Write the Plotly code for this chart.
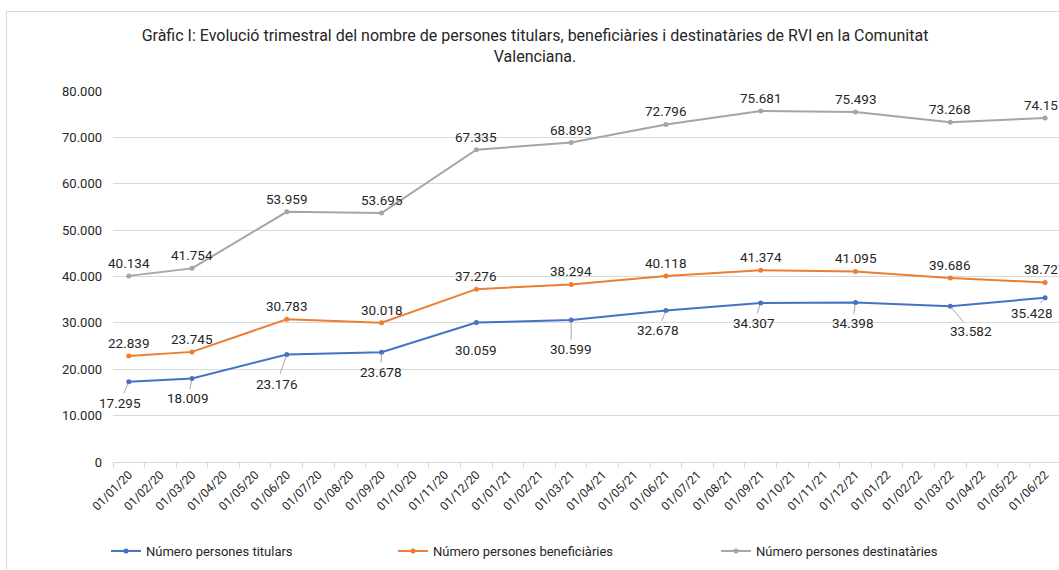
import plotly.graph_objects as go

months = ["01/01/20", "01/02/20", "01/03/20", "01/04/20", "01/05/20", "01/06/20",
          "01/07/20", "01/08/20", "01/09/20", "01/10/20", "01/11/20", "01/12/20",
          "01/01/21", "01/02/21", "01/03/21", "01/04/21", "01/05/21", "01/06/21",
          "01/07/21", "01/08/21", "01/09/21", "01/10/21", "01/11/21", "01/12/21",
          "01/01/22", "01/02/22", "01/03/22", "01/04/22", "01/05/22", "01/06/22"]

dates = ["01/01/20", "01/03/20", "01/06/20", "01/09/20", "01/12/20", "01/03/21",
         "01/06/21", "01/09/21", "01/12/21", "01/03/22", "01/06/22"]

titulars = [17295, 18009, 23176, 23678, 30059, 30599, 32678, 34307, 34398, 33582, 35428]
beneficiaries = [22839, 23745, 30783, 30018, 37276, 38294, 40118, 41374, 41095, 39686, 38727]
destinataries = [40134, 41754, 53959, 53695, 67335, 68893, 72796, 75681, 75493, 73268, 74155]

names = ["Número persones titulars", "Número persones beneficiàries", "Número persones destinatàries"]
colors = ["#4472C4", "#ED7D31", "#A5A5A5"]

# label offsets for the blue series (pixels: dx, dy) and whether a leader line is visible
blue_offsets = [(-9, 21), (-4, 20), (-10, 29), (-1, 20), (0, 27), (0, 29),
                (-8, 20), (-7, 20), (-3, 21), (21, 25), (-13, 15)]
blue_leader = [True, True, True, True, False, True, True, True, True, True, True]


def fmt(v):
    return f"{v:,}".replace(",", ".")


fig = go.Figure()
series = [titulars, beneficiaries, destinataries]
legends = ["legend", "legend2", "legend3"]
for vals, name, col, lg in zip(series, names, colors, legends):
    fig.add_trace(go.Scatter(
        x=dates, y=vals, name=name, mode="lines+markers",
        line=dict(color=col, width=2),
        marker=dict(color=col, size=5),
        legend=lg, cliponaxis=False,
    ))

annotations = []
for vals in (beneficiaries, destinataries):
    for d, v in zip(dates, vals):
        annotations.append(dict(x=d, y=v, text=fmt(v), showarrow=False, yshift=13,
                                font=dict(size=13.5, color="#262626")))
for d, v, (dx, dy), lead in zip(dates, titulars, blue_offsets, blue_leader):
    annotations.append(dict(x=d, y=v, text=fmt(v), showarrow=True, ax=dx, ay=dy,
                            arrowhead=0, arrowwidth=1,
                            arrowcolor="#A6A6A6" if lead else "rgba(0,0,0,0)",
                            standoff=2, startstandoff=0,
                            font=dict(size=13.5, color="#262626")))

L, T, W, H = 113, 91, 1059, 570
PW = W - L
PH = 462 - T


def px_x(p):
    return (p - L) / PW


def px_y(p):
    return (462 - p) / PH


fig.update_layout(
    width=W, height=H,
    margin=dict(l=L, r=0, t=T, b=H - 462),
    paper_bgcolor="white", plot_bgcolor="white",
    separators=",.",
    font=dict(family="Roboto, Arial, sans-serif", color="#262626"),
    title=dict(
        text="Gràfic I: Evolució trimestral del nombre de persones titulars, beneficiàries i destinatàries de RVI en la Comunitat<br>Valenciana.",
        x=535 / W, xref="container", xanchor="center",
        y=1 - 41 / H, yref="container", yanchor="top",
        font=dict(size=16, color="#262626"),
    ),
    xaxis=dict(
        type="category", categoryorder="array", categoryarray=months,
        tickmode="array", tickvals=months, ticktext=months,
        range=[-0.5, 29.44], tickangle=-45,
        tickson="boundaries", ticks="outside", ticklen=5, tickcolor="#D9D9D9",
        showline=True, linecolor="#D9D9D9", linewidth=1,
        showgrid=False, zeroline=False,
        tickfont=dict(size=12, color="#262626"),
    ),
    yaxis=dict(
        range=[0, 80000], dtick=10000, tickformat=",d",
        showgrid=True, gridcolor="#D9D9D9", gridwidth=1,
        zeroline=False, showline=False, ticks="",
        ticklabelstandoff=10,
        tickfont=dict(size=13, color="#262626"),
    ),
    annotations=annotations,
    showlegend=True,
    legend=dict(orientation="h", x=px_x(106), y=px_y(551), xanchor="left", yanchor="middle",
                font=dict(size=13, color="#262626"), bgcolor="rgba(0,0,0,0)"),
    legend2=dict(orientation="h", x=px_x(393), y=px_y(551), xanchor="left", yanchor="middle",
                 font=dict(size=13, color="#262626"), bgcolor="rgba(0,0,0,0)"),
    legend3=dict(orientation="h", x=px_x(716), y=px_y(551), xanchor="left", yanchor="middle",
                 font=dict(size=13, color="#262626"), bgcolor="rgba(0,0,0,0)"),
    shapes=[dict(type="rect", xref="paper", yref="paper",
                 x0=px_x(6.5), x1=px_x(1070), y0=px_y(580), y1=px_y(11.5),
                 line=dict(color="#D9D9D9", width=1), fillcolor="rgba(0,0,0,0)",
                 layer="below")],
)

fig.write_html("out.html", config={"displayModeBar": False},
               post_script="document.body.style.margin='0';document.body.style.overflow='hidden';")
